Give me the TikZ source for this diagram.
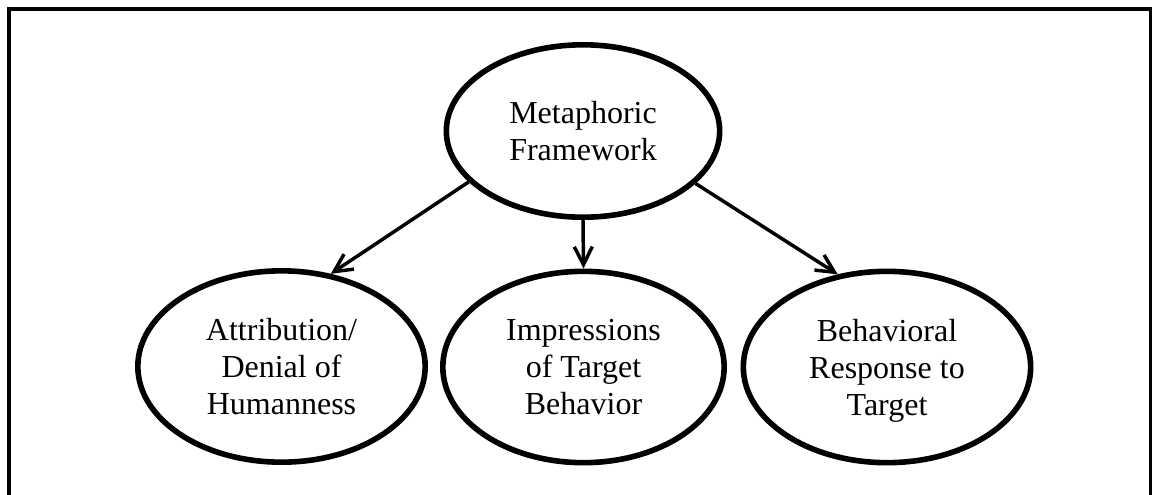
\documentclass[tikz,border=0pt]{standalone}
\usepackage{fontspec}
\setmainfont{Liberation Serif}
\usetikzlibrary{shapes.geometric,arrows.meta}
\begin{document}
\begin{tikzpicture}[x=0.75pt,y=-0.75pt,
  oval/.style={ellipse,draw,line width=4.2pt,inner sep=0pt,align=center,
    font=\fontsize{24}{27.75}\selectfont},
  link/.style={line width=2.6pt,-{Straight Barb[length=13.5pt,width=13.5pt]}},
  frame/.style={line width=2.6pt}]
\useasboundingbox (0,0) rectangle (1152,494);
\clip (0,0) rectangle (1152,494);
\draw[frame] (9,530) -- (9,9) -- (1151,9) -- (1151,530);
\node[oval,minimum width=205pt,minimum height=129.3pt] (mf) at (583,131) {Metaphoric\\Framework};
\node[oval,minimum width=215.5pt,minimum height=143.5pt] (adh) at (281.5,366.5) {Attribution/\\Denial of\\Humanness};
\node[oval,minimum width=211pt,minimum height=143.5pt] (itb) at (583.5,367) {Impressions\\of Target\\Behavior};
\node[oval,minimum width=215.5pt,minimum height=143.5pt] (brt) at (887,367) {Behavioral\\Response to\\\raisebox{0pt}[\height][0pt]{Target}};
\draw[link] (mf.204.4) -- (adh.62.6);
\draw[link] (mf.270) -- (itb.90);
\draw[link] (mf.335.2) -- (brt.118.7);
\end{tikzpicture}
\end{document}
